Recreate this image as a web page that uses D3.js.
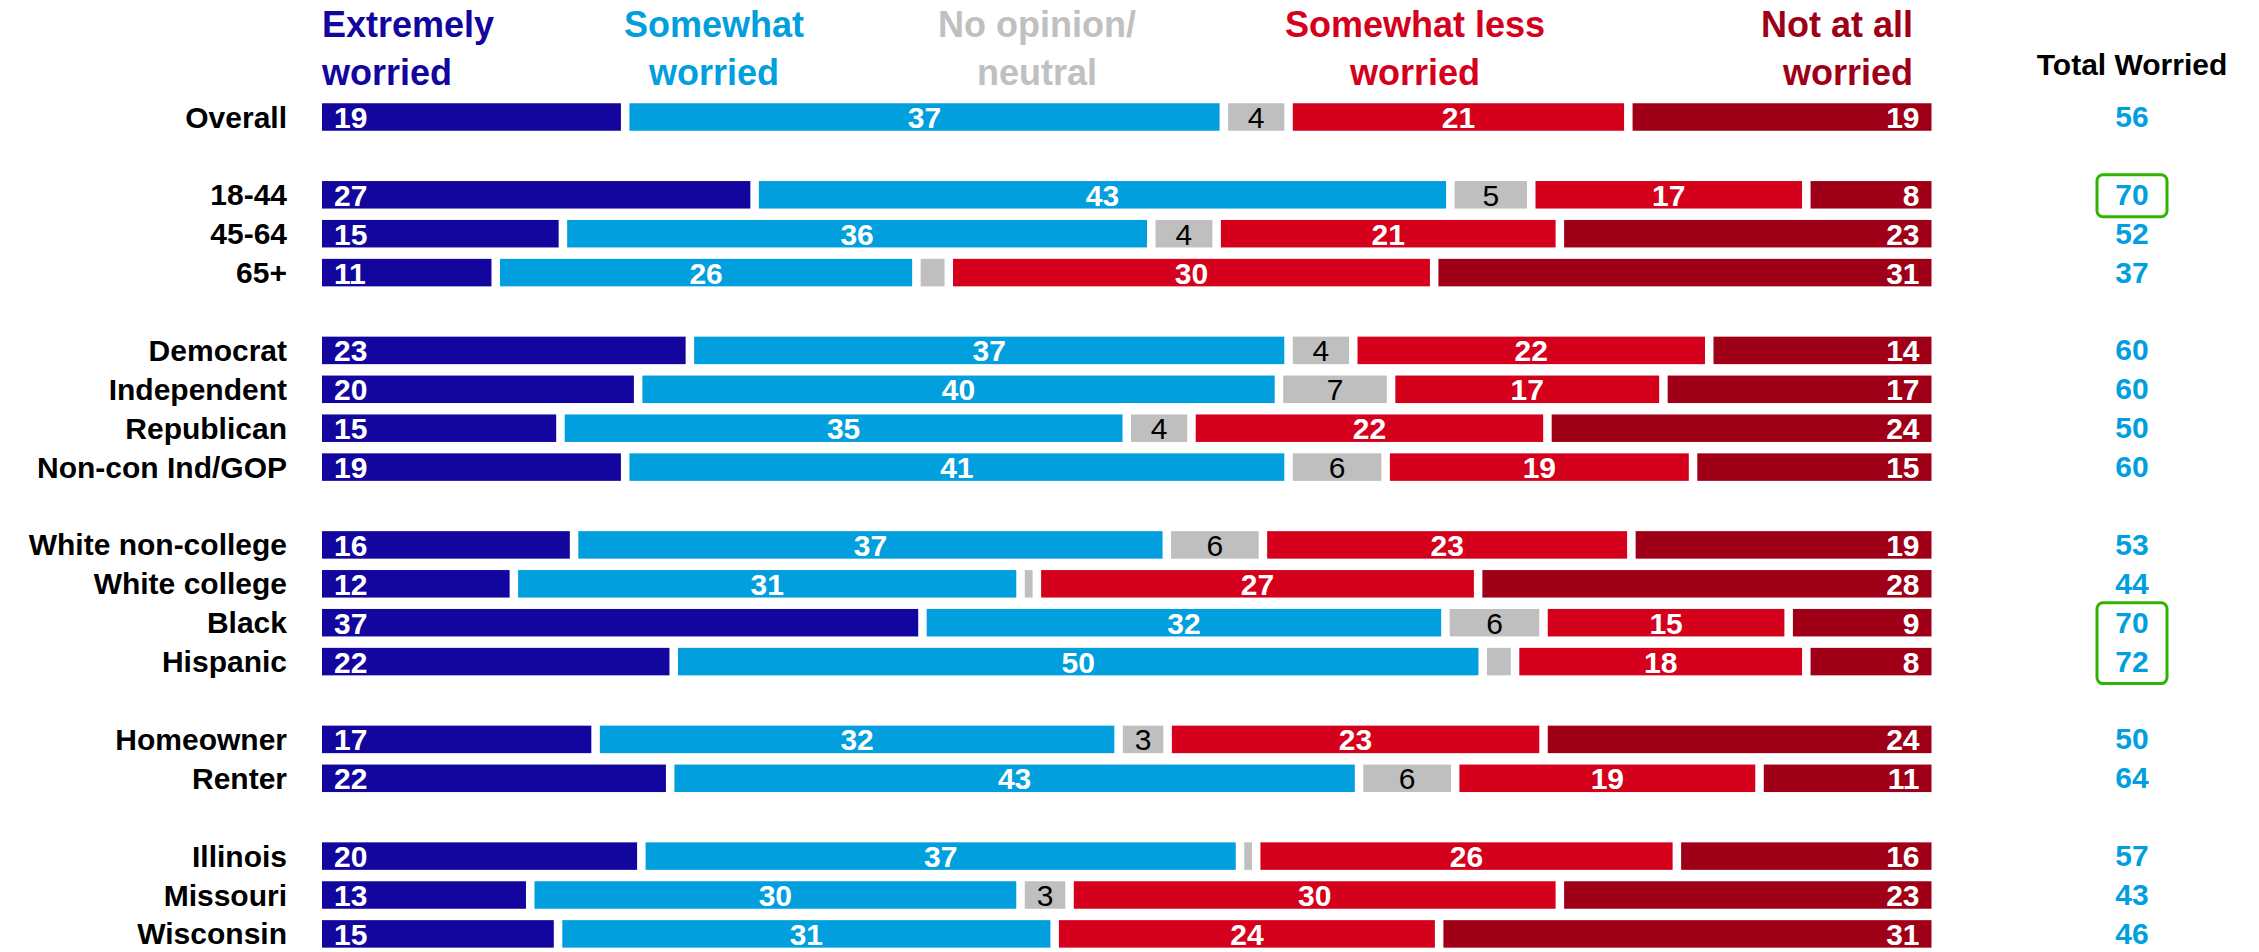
<!DOCTYPE html>
<html>
<head>
<meta charset="utf-8">
<script src="https://cdn.jsdelivr.net/npm/d3@7/dist/d3.min.js"></script>
<style>
  html, body { margin: 0; padding: 0; background: #ffffff; }
  svg { display: block; font-family: "Liberation Sans", Arial, Helvetica, sans-serif; }
</style>
</head>
<body>
<svg id="chart" width="2259" height="952"></svg>
<script>
// ---------- DATA ----------
const categories = ["Overall", "18-44", "45-64", "65+", "Democrat", "Independent", "Republican", "Non-con Ind/GOP",
  "White non-college", "White college", "Black", "Hispanic", "Homeowner", "Renter", "Illinois", "Missouri", "Wisconsin"];
const groupIndex = [0, 1, 1, 1, 2, 2, 2, 2, 3, 3, 3, 3, 4, 4, 5, 5, 5];

const seriesNames = ["Extremely worried", "Somewhat worried", "No opinion/ neutral", "Somewhat less worried", "Not at all worried"];
const headerLines = [["Extremely", "worried"], ["Somewhat", "worried"], ["No opinion/", "neutral"], ["Somewhat less", "worried"], ["Not at all", "worried"]];

const extremely   = [19, 27, 15, 11, 23, 20, 15, 19, 16, 12, 37, 22, 17, 22, 20, 13, 15];
const somewhat    = [37, 43, 36, 26, 37, 40, 35, 41, 37, 31, 32, 50, 32, 43, 37, 30, 31];
const noOpinion   = [4, 5, 4, 2, 4, 7, 4, 6, 6, 1, 6, 2, 3, 6, 1, 3, 0];
const lessWorried = [21, 17, 21, 30, 22, 17, 22, 19, 23, 27, 15, 18, 23, 19, 26, 30, 24];
const notAtAll    = [19, 8, 23, 31, 14, 17, 24, 15, 19, 28, 9, 8, 24, 11, 16, 23, 31];
const totalWorried = [56, 70, 52, 37, 60, 60, 50, 60, 53, 44, 70, 72, 50, 64, 57, 43, 46];
const highlighted = [["18-44"], ["Black", "Hispanic"]];

const colors = ["#12069f", "#019fde", "#bfbfbf", "#d5001c", "#9f0018"];
const headerColors = ["#12069f", "#019fde", "#c0c0c0", "#d5001c", "#9f0018"];

// ---------- LAYOUT ----------
const svg = d3.select("#chart");
const series = [extremely, somewhat, noOpinion, lessWorried, notAtAll];
const nSlots = categories.length + groupIndex[groupIndex.length - 1];

const y = d3.scalePoint()
  .domain(d3.range(nSlots))
  .range([117, 117 + (nSlots - 1) * 38.9]);
const x = d3.scaleLinear().domain([0, 1]).range([322, 1940]);
const gap = 8.5;
const barH = 27.5;

const rows = categories.map((c, i) => {
  const vals = series.map(s => s[i]);
  const sum = d3.sum(vals);
  let cum = 0;
  const segs = vals.map((v, k) => {
    const s = { k, v, f0: cum / sum, f1: (cum + v) / sum };
    cum += v;
    return s;
  });
  return { name: c, i, cy: y(i + groupIndex[i]), segs, total: totalWorried[i] };
});

// headers
const headerX = [322, 714, 1037, 1415, 1913];
const headerAnchor = ["start", "middle", "middle", "middle", "end"];
headerLines.forEach((lines, k) => {
  const t = svg.append("text")
    .attr("x", headerX[k])
    .attr("text-anchor", headerAnchor[k])
    .attr("fill", headerColors[k])
    .attr("font-size", 36)
    .attr("font-weight", "bold");
  lines.forEach((ln, j) => {
    t.append("tspan").attr("x", headerX[k]).attr("y", 37 + j * 48).text(ln);
  });
});
svg.append("text")
  .attr("x", 2132).attr("y", 75)
  .attr("text-anchor", "middle")
  .attr("font-size", 30).attr("font-weight", "bold")
  .attr("fill", "#000")
  .text("Total Worried");

// rows
const rowG = svg.selectAll("g.row").data(rows).join("g").attr("class", "row");

rowG.append("text")
  .attr("x", 287)
  .attr("y", d => d.cy + 10.5)
  .attr("text-anchor", "end")
  .attr("font-size", 30)
  .attr("font-weight", "bold")
  .attr("fill", "#000")
  .text(d => d.name);

const segG = rowG.selectAll("g.seg").data(d => d.segs.map(s => ({ ...s, cy: d.cy }))).join("g").attr("class", "seg");

segG.filter(d => d.v > 0).append("rect")
  .attr("x", d => x(d.f0))
  .attr("y", d => d.cy - barH / 2)
  .attr("width", d => Math.max(0, x(d.f1) - x(d.f0) - gap))
  .attr("height", barH)
  .attr("fill", d => colors[d.k]);

segG.filter(d => d.v >= 3).append("text")
  .attr("x", d => {
    const x0 = x(d.f0), x1 = x(d.f1) - gap;
    if (d.k === 0) return x0 + 12;
    if (d.k === 4) return x1 - 12;
    return (x0 + x1) / 2;
  })
  .attr("y", d => d.cy + 11)
  .attr("text-anchor", d => d.k === 0 ? "start" : d.k === 4 ? "end" : "middle")
  .attr("font-size", 30)
  .attr("font-weight", d => d.k === 2 ? "normal" : "bold")
  .attr("fill", d => d.k === 2 ? "#000" : "#fff")
  .text(d => d.v);

// totals
rowG.append("text")
  .attr("x", 2132)
  .attr("y", d => d.cy + 10)
  .attr("text-anchor", "middle")
  .attr("font-size", 30)
  .attr("font-weight", "bold")
  .attr("fill", "#019fde")
  .text(d => d.total);

// highlight boxes
highlighted.forEach(names => {
  const cys = names.map(n => rows.find(r => r.name === n).cy);
  const top = d3.min(cys) - 20, bottom = d3.max(cys) + 22;
  svg.append("rect")
    .attr("x", 2097).attr("y", top)
    .attr("width", 70).attr("height", bottom - top)
    .attr("rx", 6).attr("ry", 6)
    .attr("fill", "none")
    .attr("stroke", "#2fb400")
    .attr("stroke-width", 3);
});
</script>
</body>
</html>
